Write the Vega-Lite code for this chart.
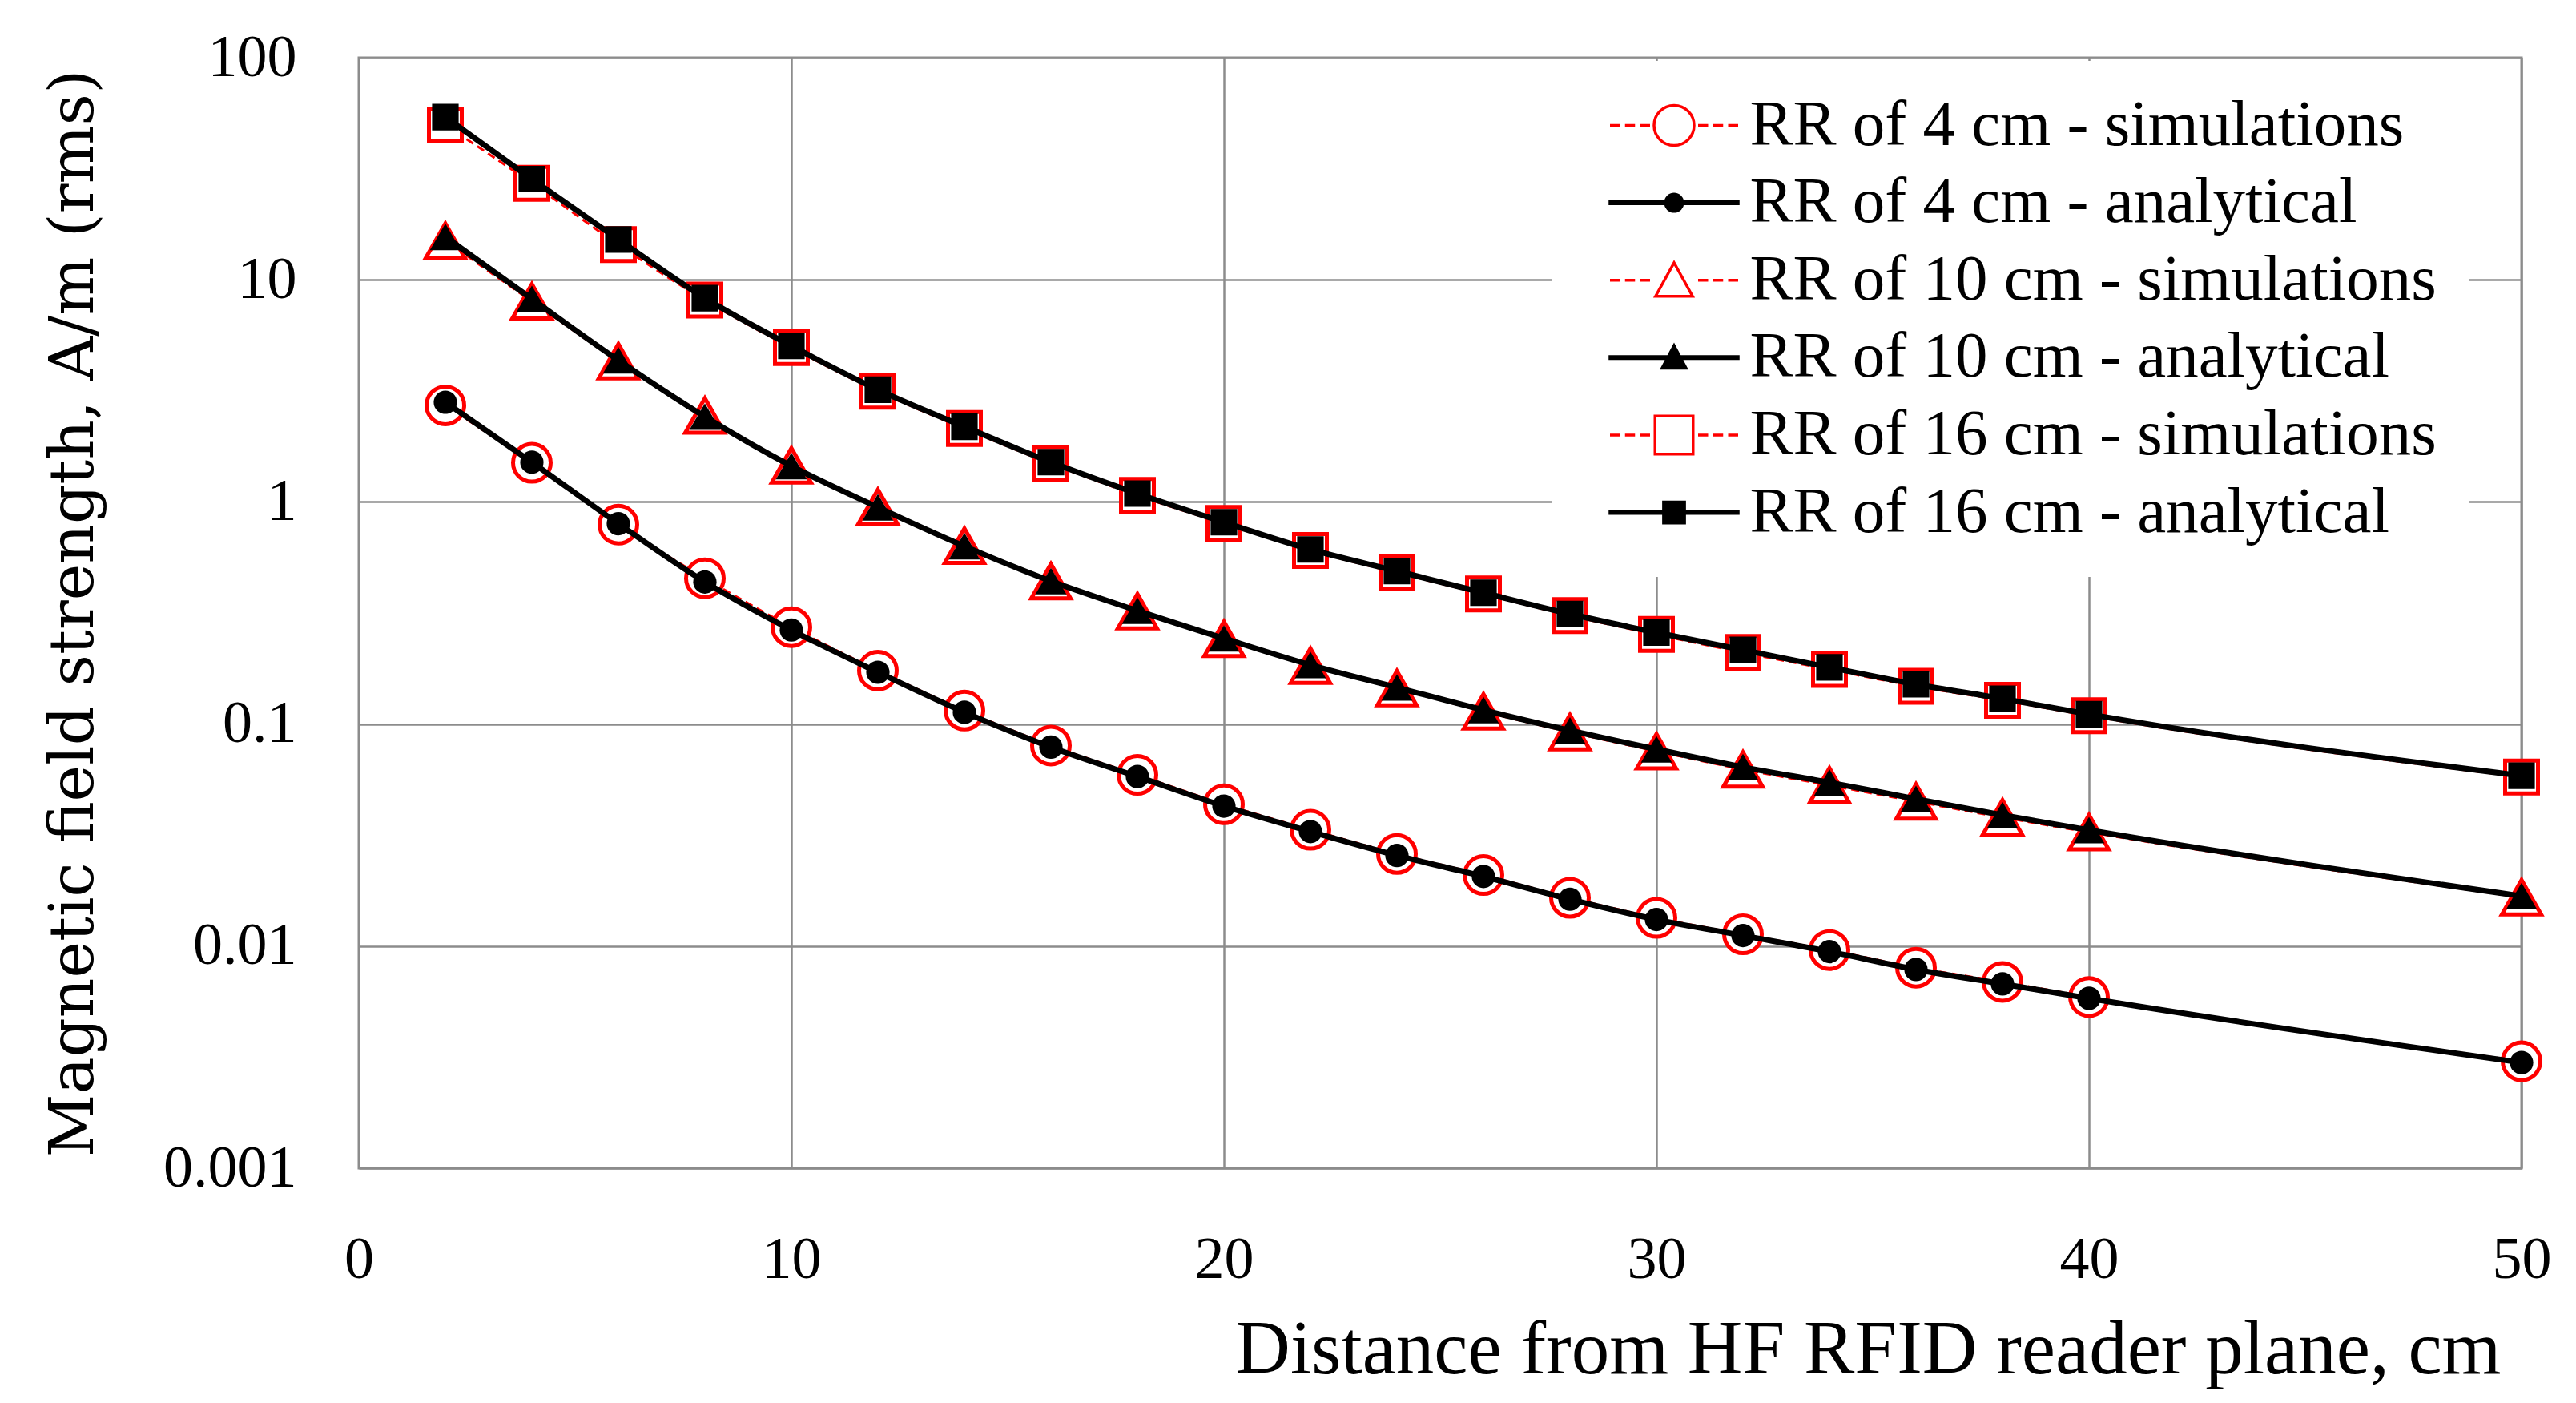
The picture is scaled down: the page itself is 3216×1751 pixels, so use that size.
{
  "$schema": "https://vega.github.io/schema/vega-lite/v6.json",
  "width": 2700,
  "height": 1386,
  "autosize": "none",
  "padding": {"left": 448, "top": 72, "right": 68, "bottom": 293},
  "background": "white",
  "data": {
    "values": [
      {"d": 2, "h": 2.72, "s": "RR of 4 cm - simulations"},
      {"d": 4, "h": 1.5, "s": "RR of 4 cm - simulations"},
      {"d": 6, "h": 0.79, "s": "RR of 4 cm - simulations"},
      {"d": 8, "h": 0.453, "s": "RR of 4 cm - simulations"},
      {"d": 10, "h": 0.273, "s": "RR of 4 cm - simulations"},
      {"d": 12, "h": 0.174, "s": "RR of 4 cm - simulations"},
      {"d": 14, "h": 0.115, "s": "RR of 4 cm - simulations"},
      {"d": 16, "h": 0.08, "s": "RR of 4 cm - simulations"},
      {"d": 18, "h": 0.059, "s": "RR of 4 cm - simulations"},
      {"d": 20, "h": 0.0435, "s": "RR of 4 cm - simulations"},
      {"d": 22, "h": 0.0334, "s": "RR of 4 cm - simulations"},
      {"d": 24, "h": 0.026, "s": "RR of 4 cm - simulations"},
      {"d": 26, "h": 0.0209, "s": "RR of 4 cm - simulations"},
      {"d": 28, "h": 0.0165, "s": "RR of 4 cm - simulations"},
      {"d": 30, "h": 0.0134, "s": "RR of 4 cm - simulations"},
      {"d": 32, "h": 0.0113, "s": "RR of 4 cm - simulations"},
      {"d": 34, "h": 0.0096, "s": "RR of 4 cm - simulations"},
      {"d": 36, "h": 0.008, "s": "RR of 4 cm - simulations"},
      {"d": 38, "h": 0.0069, "s": "RR of 4 cm - simulations"},
      {"d": 40, "h": 0.0059, "s": "RR of 4 cm - simulations"},
      {"d": 50, "h": 0.00303, "s": "RR of 4 cm - simulations"},
      {"d": 2, "h": 2.81, "s": "RR of 4 cm - analytical"},
      {"d": 4, "h": 1.51, "s": "RR of 4 cm - analytical"},
      {"d": 6, "h": 0.798, "s": "RR of 4 cm - analytical"},
      {"d": 8, "h": 0.436, "s": "RR of 4 cm - analytical"},
      {"d": 10, "h": 0.265, "s": "RR of 4 cm - analytical"},
      {"d": 12, "h": 0.171, "s": "RR of 4 cm - analytical"},
      {"d": 14, "h": 0.113, "s": "RR of 4 cm - analytical"},
      {"d": 16, "h": 0.0787, "s": "RR of 4 cm - analytical"},
      {"d": 18, "h": 0.058, "s": "RR of 4 cm - analytical"},
      {"d": 20, "h": 0.0427, "s": "RR of 4 cm - analytical"},
      {"d": 22, "h": 0.0328, "s": "RR of 4 cm - analytical"},
      {"d": 24, "h": 0.0256, "s": "RR of 4 cm - analytical"},
      {"d": 26, "h": 0.0206, "s": "RR of 4 cm - analytical"},
      {"d": 28, "h": 0.01626, "s": "RR of 4 cm - analytical"},
      {"d": 30, "h": 0.01318, "s": "RR of 4 cm - analytical"},
      {"d": 32, "h": 0.01116, "s": "RR of 4 cm - analytical"},
      {"d": 34, "h": 0.00945, "s": "RR of 4 cm - analytical"},
      {"d": 36, "h": 0.00785, "s": "RR of 4 cm - analytical"},
      {"d": 38, "h": 0.00676, "s": "RR of 4 cm - analytical"},
      {"d": 40, "h": 0.00582, "s": "RR of 4 cm - analytical"},
      {"d": 50, "h": 0.00299, "s": "RR of 4 cm - analytical"},
      {"d": 2, "h": 15.0, "s": "RR of 10 cm - simulations"},
      {"d": 4, "h": 8.0, "s": "RR of 10 cm - simulations"},
      {"d": 6, "h": 4.3, "s": "RR of 10 cm - simulations"},
      {"d": 8, "h": 2.45, "s": "RR of 10 cm - simulations"},
      {"d": 10, "h": 1.46, "s": "RR of 10 cm - simulations"},
      {"d": 12, "h": 0.95, "s": "RR of 10 cm - simulations"},
      {"d": 14, "h": 0.635, "s": "RR of 10 cm - simulations"},
      {"d": 16, "h": 0.44, "s": "RR of 10 cm - simulations"},
      {"d": 18, "h": 0.322, "s": "RR of 10 cm - simulations"},
      {"d": 20, "h": 0.242, "s": "RR of 10 cm - simulations"},
      {"d": 22, "h": 0.183, "s": "RR of 10 cm - simulations"},
      {"d": 24, "h": 0.145, "s": "RR of 10 cm - simulations"},
      {"d": 26, "h": 0.114, "s": "RR of 10 cm - simulations"},
      {"d": 28, "h": 0.092, "s": "RR of 10 cm - simulations"},
      {"d": 30, "h": 0.0755, "s": "RR of 10 cm - simulations"},
      {"d": 32, "h": 0.0625, "s": "RR of 10 cm - simulations"},
      {"d": 34, "h": 0.053, "s": "RR of 10 cm - simulations"},
      {"d": 36, "h": 0.0448, "s": "RR of 10 cm - simulations"},
      {"d": 38, "h": 0.038, "s": "RR of 10 cm - simulations"},
      {"d": 40, "h": 0.0326, "s": "RR of 10 cm - simulations"},
      {"d": 50, "h": 0.0166, "s": "RR of 10 cm - simulations"},
      {"d": 2, "h": 15.6, "s": "RR of 10 cm - analytical"},
      {"d": 4, "h": 8.2, "s": "RR of 10 cm - analytical"},
      {"d": 6, "h": 4.34, "s": "RR of 10 cm - analytical"},
      {"d": 8, "h": 2.42, "s": "RR of 10 cm - analytical"},
      {"d": 10, "h": 1.45, "s": "RR of 10 cm - analytical"},
      {"d": 12, "h": 0.946, "s": "RR of 10 cm - analytical"},
      {"d": 14, "h": 0.632, "s": "RR of 10 cm - analytical"},
      {"d": 16, "h": 0.44, "s": "RR of 10 cm - analytical"},
      {"d": 18, "h": 0.324, "s": "RR of 10 cm - analytical"},
      {"d": 20, "h": 0.243, "s": "RR of 10 cm - analytical"},
      {"d": 22, "h": 0.1845, "s": "RR of 10 cm - analytical"},
      {"d": 24, "h": 0.146, "s": "RR of 10 cm - analytical"},
      {"d": 26, "h": 0.1156, "s": "RR of 10 cm - analytical"},
      {"d": 28, "h": 0.0935, "s": "RR of 10 cm - analytical"},
      {"d": 30, "h": 0.077, "s": "RR of 10 cm - analytical"},
      {"d": 32, "h": 0.064, "s": "RR of 10 cm - analytical"},
      {"d": 34, "h": 0.0545, "s": "RR of 10 cm - analytical"},
      {"d": 36, "h": 0.046, "s": "RR of 10 cm - analytical"},
      {"d": 38, "h": 0.0389, "s": "RR of 10 cm - analytical"},
      {"d": 40, "h": 0.0333, "s": "RR of 10 cm - analytical"},
      {"d": 50, "h": 0.0168, "s": "RR of 10 cm - analytical"},
      {"d": 2, "h": 49.8, "s": "RR of 16 cm - simulations"},
      {"d": 4, "h": 27.2, "s": "RR of 16 cm - simulations"},
      {"d": 6, "h": 14.4, "s": "RR of 16 cm - simulations"},
      {"d": 8, "h": 8.1, "s": "RR of 16 cm - simulations"},
      {"d": 10, "h": 4.95, "s": "RR of 16 cm - simulations"},
      {"d": 12, "h": 3.15, "s": "RR of 16 cm - simulations"},
      {"d": 14, "h": 2.14, "s": "RR of 16 cm - simulations"},
      {"d": 16, "h": 1.49, "s": "RR of 16 cm - simulations"},
      {"d": 18, "h": 1.07, "s": "RR of 16 cm - simulations"},
      {"d": 20, "h": 0.8, "s": "RR of 16 cm - simulations"},
      {"d": 22, "h": 0.605, "s": "RR of 16 cm - simulations"},
      {"d": 24, "h": 0.48, "s": "RR of 16 cm - simulations"},
      {"d": 26, "h": 0.385, "s": "RR of 16 cm - simulations"},
      {"d": 28, "h": 0.308, "s": "RR of 16 cm - simulations"},
      {"d": 30, "h": 0.253, "s": "RR of 16 cm - simulations"},
      {"d": 32, "h": 0.21, "s": "RR of 16 cm - simulations"},
      {"d": 34, "h": 0.176, "s": "RR of 16 cm - simulations"},
      {"d": 36, "h": 0.148, "s": "RR of 16 cm - simulations"},
      {"d": 38, "h": 0.128, "s": "RR of 16 cm - simulations"},
      {"d": 40, "h": 0.109, "s": "RR of 16 cm - simulations"},
      {"d": 50, "h": 0.0577, "s": "RR of 16 cm - simulations"},
      {"d": 2, "h": 54, "s": "RR of 16 cm - analytical"},
      {"d": 4, "h": 28.4, "s": "RR of 16 cm - analytical"},
      {"d": 6, "h": 15.2, "s": "RR of 16 cm - analytical"},
      {"d": 8, "h": 8.27, "s": "RR of 16 cm - analytical"},
      {"d": 10, "h": 5.04, "s": "RR of 16 cm - analytical"},
      {"d": 12, "h": 3.2, "s": "RR of 16 cm - analytical"},
      {"d": 14, "h": 2.18, "s": "RR of 16 cm - analytical"},
      {"d": 16, "h": 1.51, "s": "RR of 16 cm - analytical"},
      {"d": 18, "h": 1.09, "s": "RR of 16 cm - analytical"},
      {"d": 20, "h": 0.81, "s": "RR of 16 cm - analytical"},
      {"d": 22, "h": 0.611, "s": "RR of 16 cm - analytical"},
      {"d": 24, "h": 0.488, "s": "RR of 16 cm - analytical"},
      {"d": 26, "h": 0.39, "s": "RR of 16 cm - analytical"},
      {"d": 28, "h": 0.313, "s": "RR of 16 cm - analytical"},
      {"d": 30, "h": 0.258, "s": "RR of 16 cm - analytical"},
      {"d": 32, "h": 0.2155, "s": "RR of 16 cm - analytical"},
      {"d": 34, "h": 0.18, "s": "RR of 16 cm - analytical"},
      {"d": 36, "h": 0.151, "s": "RR of 16 cm - analytical"},
      {"d": 38, "h": 0.13, "s": "RR of 16 cm - analytical"},
      {"d": 40, "h": 0.1107, "s": "RR of 16 cm - analytical"},
      {"d": 50, "h": 0.0585, "s": "RR of 16 cm - analytical"}
    ]
  },
  "encoding": {
    "x": {
      "field": "d",
      "type": "quantitative",
      "scale": {"domain": [0, 50], "nice": false},
      "axis": {
        "values": [0, 10, 20, 30, 40, 50],
        "title": "Distance from HF RFID reader plane, cm",
        "titleX": 2674,
        "titleY": 255,
        "titleAlign": "right",
        "titleBaseline": "alphabetic",
        "labelPadding": 136,
        "labelBaseline": "alphabetic"
      }
    },
    "y": {
      "field": "h",
      "type": "quantitative",
      "scale": {"type": "log", "domain": [0.001, 100], "nice": false},
      "axis": {
        "values": [0.001, 0.01, 0.1, 1, 10, 100],
        "format": ".3~f",
        "title": "Magnetic field strength, A/m (rms)",
        "titleFont": "DejaVu Serif",
        "titleFontSize": 77,
        "titleX": -356,
        "titleY": 693,
        "titleAngle": -90,
        "titleAlign": "center",
        "titleBaseline": "middle",
        "labelPadding": 78,
        "labelBaseline": "middle"
      }
    }
  },
  "layer": [
    {
      "transform": [{"filter": "indexof(datum.s, 'simulations') >= 0"}],
      "mark": {"type": "line", "color": "#ff0000", "strokeWidth": 3, "strokeDash": [10, 6], "interpolate": "monotone"},
      "encoding": {"detail": {"field": "s"}}
    },
    {
      "transform": [{"filter": "indexof(datum.s, 'simulations') >= 0"}],
      "mark": {"type": "point", "filled": true, "fill": "white", "stroke": "#ff0000", "strokeWidth": 5, "size": 2500, "opacity": 1},
      "encoding": {
        "shape": {
          "field": "s",
          "type": "nominal",
          "scale": {
            "domain": ["RR of 4 cm - simulations", "RR of 10 cm - simulations", "RR of 16 cm - simulations"],
            "range": [
              "M0.94,0A0.94,0.94 0 1 1 -0.94,0A0.94,0.94 0 1 1 0.94,0Z",
              "M0,-0.86L0.98,0.86L-0.98,0.86Z",
              "M-0.82,-0.82H0.82V0.82H-0.82Z"
            ]
          },
          "legend": null
        }
      }
    },
    {
      "transform": [{"filter": "indexof(datum.s, 'analytical') >= 0"}],
      "mark": {"type": "line", "color": "black", "strokeWidth": 7, "interpolate": "monotone"},
      "encoding": {"detail": {"field": "s"}}
    },
    {
      "transform": [{"filter": "indexof(datum.s, 'analytical') >= 0"}],
      "mark": {"type": "point", "filled": true, "color": "black", "strokeWidth": 0, "size": 1100, "opacity": 1},
      "encoding": {
        "shape": {
          "field": "s",
          "type": "nominal",
          "scale": {
            "domain": ["RR of 4 cm - analytical", "RR of 10 cm - analytical", "RR of 16 cm - analytical"],
            "range": [
              "M0.88,0A0.88,0.88 0 1 1 -0.88,0A0.88,0.88 0 1 1 0.88,0Z",
              "M0,-1L1.17,1L-1.17,1Z",
              "M-1,-1H1V1H-1Z"
            ]
          },
          "legend": null
        }
      }
    },
    {
      "transform": [{"filter": "datum.d > 1000"}],
      "mark": {"type": "point", "filled": true, "opacity": 1},
      "encoding": {
        "fill": {
          "field": "s",
          "type": "nominal",
          "scale": {
            "domain": ["RR of 4 cm - simulations", "RR of 4 cm - analytical", "RR of 10 cm - simulations", "RR of 10 cm - analytical", "RR of 16 cm - simulations", "RR of 16 cm - analytical"],
            "range": ["white", "black", "white", "black", "white", "black"]
          },
          "legend": {"title": null, "orient": "none", "legendX": 1489, "legendY": 4, "padding": 40, "fillColor": "white", "symbolSize": 625, "symbolStrokeWidth": 3.5, "symbolOffset": 72.5, "labelOffset": 54, "rowPadding": 14.6, "labelFont": "Liberation Serif", "labelFontSize": 81, "labelColor": "black", "labelLimit": 3000, "labelBaseline": "middle"}
        },
        "stroke": {
          "field": "s",
          "type": "nominal",
          "scale": {
            "domain": ["RR of 4 cm - simulations", "RR of 4 cm - analytical", "RR of 10 cm - simulations", "RR of 10 cm - analytical", "RR of 16 cm - simulations", "RR of 16 cm - analytical"],
            "range": ["#ff0000", "black", "#ff0000", "black", "#ff0000", "black"]
          },
          "legend": {"title": null, "orient": "none", "legendX": 1489, "legendY": 4, "padding": 40, "fillColor": "white", "symbolSize": 625, "symbolStrokeWidth": 3.5, "symbolOffset": 72.5, "labelOffset": 54, "rowPadding": 14.6, "labelFont": "Liberation Serif", "labelFontSize": 81, "labelColor": "black", "labelLimit": 3000, "labelBaseline": "middle"}
        },
        "shape": {
          "field": "s",
          "type": "nominal",
          "scale": {
            "domain": ["RR of 4 cm - simulations", "RR of 4 cm - analytical", "RR of 10 cm - simulations", "RR of 10 cm - analytical", "RR of 16 cm - simulations", "RR of 16 cm - analytical"],
            "range": [
              "M-6.4,0H-5.4M-4.9,0H-3.9M-3.4,0H-2.4M2.4,0H3.4M3.9,0H4.9M5.4,0H6.4M2,0A2,2 0 1 1 -2,0A2,2 0 1 1 2,0Z",
              "M-6.4,-0.1H6.4V0.1H-6.4ZM0.86,0A0.86,0.86 0 1 1 -0.86,0A0.86,0.86 0 1 1 0.86,0Z",
              "M-6.4,0H-5.4M-4.9,0H-3.9M-3.4,0H-2.4M2.4,0H3.4M3.9,0H4.9M5.4,0H6.4M0,-1.75L1.85,1.6L-1.85,1.6Z",
              "M-6.4,-0.1H6.4V0.1H-6.4ZM0,-1.2L1.2,1.05L-1.2,1.05Z",
              "M-6.4,0H-5.4M-4.9,0H-3.9M-3.4,0H-2.4M2.4,0H3.4M3.9,0H4.9M5.4,0H6.4M-1.9,-1.9H1.9V1.9H-1.9Z",
              "M-6.4,-0.1H6.4V0.1H-6.4ZM-1.05,-1.05H1.05V1.05H-1.05Z"
            ]
          },
          "legend": {"title": null, "orient": "none", "legendX": 1489, "legendY": 4, "padding": 40, "fillColor": "white", "symbolSize": 625, "symbolStrokeWidth": 3.5, "symbolOffset": 72.5, "labelOffset": 54, "rowPadding": 14.6, "labelFont": "Liberation Serif", "labelFontSize": 81, "labelColor": "black", "labelLimit": 3000, "labelBaseline": "middle"}
        }
      }
    }
  ],
  "resolve": {"scale": {"shape": "independent", "fill": "independent", "stroke": "independent"}},
  "config": {
    "view": {"stroke": "#8c8c8c", "strokeWidth": 3},
    "axis": {
      "domain": false,
      "ticks": false,
      "tickSize": 0,
      "grid": true,
      "gridColor": "#8c8c8c",
      "gridWidth": 2.5,
      "gridOpacity": 1,
      "labelFont": "Liberation Serif",
      "labelFontSize": 74,
      "labelColor": "black",
      "labelFlush": false,
      "labelOverlap": false,
      "titleFont": "Liberation Serif",
      "titleFontSize": 95,
      "titleFontWeight": "normal",
      "titleColor": "black"
    }
  }
}
